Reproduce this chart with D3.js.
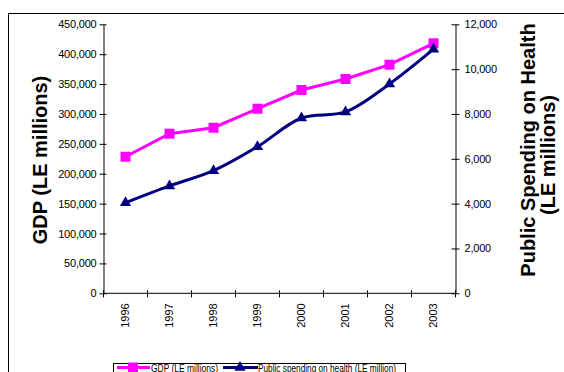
<!DOCTYPE html>
<html><head><meta charset="utf-8">
<script src="https://cdn.jsdelivr.net/npm/d3@7"></script>
<style>body{margin:0;background:#fff}svg{display:block}text{font-family:Arial,"Liberation Sans",sans-serif;fill:#000}</style>
</head><body>
<svg id="c" width="564" height="372"></svg>
<script>
const years = ["1996","1997","1998","1999","2000","2001","2002","2003"];
const gdp = [228500, 267000, 277000, 308800, 340100, 358500, 382400, 418200];
const health = [4040, 4790, 5470, 6540, 7820, 8090, 9340, 10890];
const leftTicks = [0,50000,100000,150000,200000,250000,300000,350000,400000,450000];
const rightTicks = [0,2000,4000,6000,8000,10000,12000];

const svg = d3.select("#c");
const L = 103.5, R = 455.5, T = 24.3, B = 293.3;
const fmt = d3.format(",");

svg.append("rect").attr("x",8.5).attr("y",13.5).attr("width",600).attr("height",400)
  .attr("fill","none").attr("stroke","#000").attr("stroke-width",1);

const x = d3.scaleBand().domain(years).range([L, R]);
const yL = d3.scaleLinear().domain([0,450000]).range([B, T]);
const yR = d3.scaleLinear().domain([0,12000]).range([B, T]);

// left axis
const gL = svg.append("g").attr("transform",`translate(${L},0)`)
  .call(d3.axisLeft(yL).tickValues(leftTicks).tickFormat(fmt).tickSizeInner(4).tickSizeOuter(0).tickPadding(3));
gL.selectAll(".tick line").attr("x1",3);
// right axis
const gR = svg.append("g").attr("transform",`translate(${R},0)`)
  .call(d3.axisRight(yR).tickValues(rightTicks).tickFormat(fmt).tickSizeInner(4).tickSizeOuter(0).tickPadding(5));
gR.selectAll(".tick line").attr("x1",-4);
// bottom axis with ticks at band edges
const gB = svg.append("g").attr("transform",`translate(0,${B})`);
gB.append("line").attr("x1",L).attr("x2",R).attr("stroke","#000");
const edges = years.map(d=>x(d)).concat([R]);
gB.selectAll("line.t").data(edges).join("line").attr("class","t")
  .attr("x1",d=>d).attr("x2",d=>d).attr("y1",-3).attr("y2",4).attr("stroke","#000");
gB.selectAll("text").data(years).join("text")
  .attr("transform",d=>`translate(${x(d)+x.bandwidth()/2},10) rotate(-90)`)
  .attr("text-anchor","end").attr("dy","0.35em").attr("font-size",11).text(d=>d);

[gL,gR].forEach(g=>{
  g.selectAll("text").attr("font-size",11).attr("font-family","Arial, 'Liberation Sans', sans-serif").attr("letter-spacing","-0.2");
  g.selectAll("path.domain").attr("stroke","#000");
  g.selectAll(".tick line").attr("stroke","#000");
});

const cx = d => x(d) + x.bandwidth()/2;

// GDP line
svg.append("path").datum(gdp)
  .attr("d", d3.line().x((d,i)=>cx(years[i])).y(d=>yL(d)))
  .attr("fill","none").attr("stroke","#FF00FF").attr("stroke-width",3);
svg.selectAll("rect.m").data(gdp).join("rect").attr("class","m")
  .attr("x",(d,i)=>cx(years[i])-5).attr("y",d=>yL(d)-5).attr("width",10).attr("height",10)
  .attr("fill","#FF00FF");

// Health line
svg.append("path").datum(health)
  .attr("d", d3.line().x((d,i)=>cx(years[i])).y(d=>yR(d)).curve(d3.curveCatmullRom.alpha(0.5)))
  .attr("fill","none").attr("stroke","#000080").attr("stroke-width",3);
const tri = d3.symbol().type(d3.symbolTriangle).size(55);
svg.selectAll("path.tr").data(health).join("path").attr("class","tr")
  .attr("transform",(d,i)=>`translate(${cx(years[i])},${yR(d)})`)
  .attr("d",tri).attr("fill","#000080");

// axis titles
svg.append("text").attr("transform","translate(47,160) rotate(-90)")
  .attr("text-anchor","middle").attr("font-size",20).attr("font-weight","bold").text("GDP (LE millions)");
svg.append("text").attr("transform","translate(535,150) rotate(-90)")
  .attr("text-anchor","middle").attr("font-size",20).attr("font-weight","bold").text("Public Spending on Health");
svg.append("text").attr("transform","translate(555,155) rotate(-90)")
  .attr("text-anchor","middle").attr("font-size",20).attr("font-weight","bold").text("(LE millions)");

// legend
const lg = svg.append("g");
lg.append("rect").attr("x",113.5).attr("y",363.5).attr("width",292).attr("height",20)
  .attr("fill","#fff").attr("stroke","#000");
const ly = 367.5;
lg.append("line").attr("x1",117).attr("x2",150).attr("y1",ly).attr("y2",ly).attr("stroke","#FF00FF").attr("stroke-width",3);
lg.append("rect").attr("x",128).attr("y",ly-5).attr("width",10).attr("height",10).attr("fill","#FF00FF");
lg.append("text").attr("x",151).attr("y",ly+4).attr("font-size",11).attr("textLength",67).attr("lengthAdjust","spacingAndGlyphs").text("GDP (LE millions)");
lg.append("line").attr("x1",223).attr("x2",258).attr("y1",ly).attr("y2",ly).attr("stroke","#000080").attr("stroke-width",3);
lg.append("path").attr("transform",`translate(240,${ly})`).attr("d",tri).attr("fill","#000080");
lg.append("text").attr("x",258).attr("y",ly+4).attr("font-size",11).attr("textLength",138).attr("lengthAdjust","spacingAndGlyphs").text("Public spending on health (LE million)");
</script>
</body></html>
